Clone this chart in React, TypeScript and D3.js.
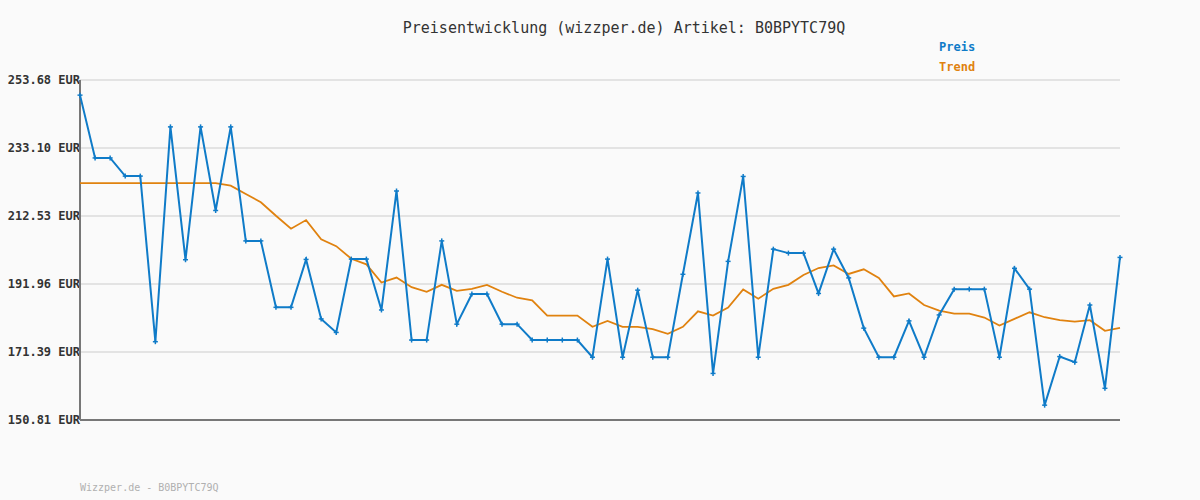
import React from "react";
import * as d3 from "d3";

const title = "Preisentwicklung (wizzper.de) Artikel: B0BPYTC79Q";
const footer = "Wizzper.de - B0BPYTC79Q";
const yTickLabels = ["150.81", "171.39", "191.96", "212.53", "233.10", "253.68"];
const seriesNames = ["Preis", "Trend"];

const price = [
  249.1, 230.1, 230.1, 224.6, 224.6, 174.5, 239.5, 199.3, 239.5, 214.2,
  239.5, 205.0, 205.0, 184.9, 184.9, 199.4, 181.4, 177.3, 199.5, 199.5,
  184.1, 220.1, 175.0, 175.0, 205.0, 179.8, 188.9, 188.9, 179.8, 179.8,
  175.0, 175.0, 175.0, 175.0, 169.8, 199.5, 169.8, 190.1, 169.8, 169.8,
  194.9, 219.5, 164.9, 198.8, 224.5, 169.8, 202.5, 201.3, 201.3, 189.1,
  202.5, 193.8, 178.6, 169.8, 169.8, 180.8, 169.8, 182.6, 190.4, 190.4,
  190.4, 169.8, 196.7, 190.4, 155.3, 170.0, 168.3, 185.6, 160.4, 200.0,
];

const trend = [
  222.5, 222.5, 222.5, 222.5, 222.5, 222.5, 222.5, 222.5, 222.5, 222.5,
  221.7, 219.2, 216.7, 212.6, 208.7, 211.3, 205.5, 203.4, 199.6, 197.9,
  192.4, 193.9, 191.0, 189.6, 191.7, 189.9, 190.5, 191.7, 189.6, 187.8,
  187.0, 182.4, 182.4, 182.4, 179.0, 180.8, 179.0, 179.0, 178.3, 176.9,
  179.0, 183.7, 182.4, 184.8, 190.3, 187.5, 190.5, 191.7, 194.7, 196.8,
  197.6, 195.0, 196.4, 193.8, 188.2, 189.1, 185.6, 183.9, 183.0, 183.0,
  181.8, 179.4, 181.4, 183.4, 181.9, 181.0, 180.6, 181.0, 177.8, 178.7,
];

const W = 1200;
const H = 500;
const left = 80;
const right = 1120;
const top = 80;
const bottom = 420;
const mono = "'DejaVu Sans Mono', monospace";
const blue = "#0f7bc8";
const orange = "#e0820f";

export default function App() {
  const x = d3.scaleLinear().domain([0, price.length - 1]).range([left, right]);
  const yMin = +yTickLabels[0];
  const yMax = +yTickLabels[yTickLabels.length - 1];
  const y = d3.scaleLinear().domain([yMin, yMax]).range([bottom, top]);
  const line = d3
    .line<number>()
    .x((_, i) => x(i))
    .y((d) => y(d));

  return (
    <svg
      width={W}
      height={H}
      style={{ position: "absolute", left: 0, top: 0, display: "block" }}
    >
      <rect x={0} y={0} width={W} height={H} fill="#fafafa" />
      <text
        x={624}
        y={33}
        textAnchor="middle"
        fontFamily={mono}
        fontSize={15}
        fill="#333"
      >
        {title}
      </text>
      <text x={939} y={51} fontFamily={mono} fontSize={12} fontWeight="bold" fill={blue}>
        {seriesNames[0]}
      </text>
      <text x={939} y={71} fontFamily={mono} fontSize={12} fontWeight="bold" fill={orange}>
        {seriesNames[1]}
      </text>
      {yTickLabels.map((t) => (
        <g key={t}>
          <line
            x1={left}
            x2={right}
            y1={y(+t)}
            y2={y(+t)}
            stroke="#e3e3e3"
            strokeWidth={2}
          />
          <text
            x={left}
            y={y(+t)}
            dy="0.35em"
            textAnchor="end"
            fontFamily={mono}
            fontSize={12}
            fontWeight="bold"
            fill="#333"
          >
            {t} EUR
          </text>
        </g>
      ))}
      <line x1={left} x2={left} y1={top} y2={bottom} stroke="#777" strokeWidth={2} />
      <line x1={left} x2={right} y1={bottom} y2={bottom} stroke="#777" strokeWidth={2} />
      <path d={line(trend) || ""} fill="none" stroke={orange} strokeWidth={1.8} />
      <path d={line(price) || ""} fill="none" stroke={blue} strokeWidth={2} />
      {price.map((v, i) => (
        <g key={i} stroke={blue} strokeWidth={1.5}>
          <line x1={x(i) - 2.5} x2={x(i) + 2.5} y1={y(v)} y2={y(v)} />
          <line x1={x(i)} x2={x(i)} y1={y(v) - 2.5} y2={y(v) + 2.5} />
        </g>
      ))}
      <text x={80} y={491} fontFamily={mono} fontSize={10} fill="#b0b0b0">
        {footer}
      </text>
    </svg>
  );
}
